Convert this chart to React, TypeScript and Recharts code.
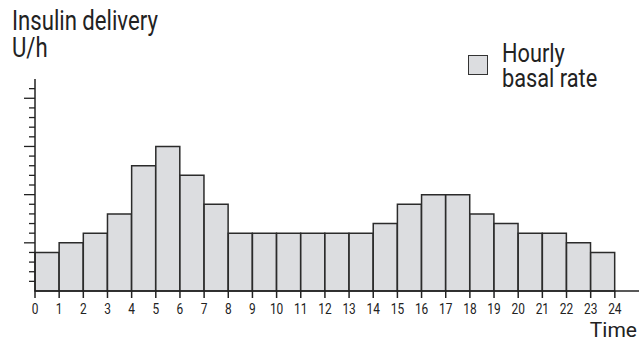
import React from "react";
import { BarChart, Bar, XAxis, YAxis, Legend } from "recharts";

// hourly basal rate, U/h, one value per hour 0-23
const hours = [0, 1, 2, 3, 4, 5, 6, 7, 8, 9, 10, 11, 12, 13, 14, 15, 16, 17, 18, 19, 20, 21, 22, 23];
const basalRate = [0.4, 0.5, 0.6, 0.8, 1.3, 1.5, 1.2, 0.9, 0.6, 0.6, 0.6, 0.6, 0.6, 0.6, 0.7, 0.9, 1.0, 1.0, 0.8, 0.7, 0.6, 0.6, 0.5, 0.4];
const xTicks = [0, 1, 2, 3, 4, 5, 6, 7, 8, 9, 10, 11, 12, 13, 14, 15, 16, 17, 18, 19, 20, 21, 22, 23, 24];
const yTicks = [0.1, 0.2, 0.3, 0.4, 0.5, 0.6, 0.7, 0.8, 0.9, 1.0, 1.1, 1.2, 1.3, 1.4, 1.5, 1.6, 1.7, 1.8, 1.9, 2.0, 2.1];
const majorY = [0.5, 1.0, 1.5, 2.0];

const font = "Roboto, 'Liberation Sans', sans-serif";
const ink = "#222";

const YTick = (props: any) => {
    const { x, y, payload } = props;
    const len = majorY.includes(payload.value) ? 11 : 6;
    return <line x1={x - len} x2={x} y1={y} y2={y} stroke={ink} strokeWidth={1.3} />;
};

// narrow digits, like the condensed face of the original
const XTick = (props: any) => {
    const { x, y, payload } = props;
    return (
        <text transform={`translate(${x},${y}) scale(0.85,1)`} textAnchor="middle" dy="0.71em" fill={ink} fontSize={14} fontFamily={font}>
            {payload.value}
        </text>
    );
};

const narrow = (size: number, sx: number): React.CSSProperties => ({
    position: "absolute",
    fontFamily: font,
    fontSize: size,
    lineHeight: `${size}px`,
    color: ink,
    whiteSpace: "nowrap",
    transform: `scaleX(${sx})`,
    transformOrigin: "left top",
});

const LegendBox = () => (
    <div style={{ position: "relative", width: 170, height: 55 }}>
        <div style={{ position: "absolute", left: 0, top: 14, width: 18, height: 18, background: "#dcdde0", border: "1.5px solid #333" }} />
        <div style={{ ...narrow(25, 0.87), left: 34, top: 0 }}>Hourly</div>
        <div style={{ ...narrow(25, 0.87), left: 34, top: 25 }}>basal rate</div>
    </div>
);

export default function App() {
    const data = basalRate.map((v, i) => ({ mid: hours[i] + 0.5, rate: v }));
    return (
        <div style={{ position: "absolute", left: 0, top: 0, width: 639, height: 345, background: "#fff" }}>
            <div style={{ ...narrow(27, 0.82), left: 12, top: 8 }}>Insulin delivery</div>
            <div style={{ ...narrow(27, 0.82), left: 12, top: 35 }}>U/h</div>
            <div style={{ position: "absolute", right: 2, top: 318, fontFamily: font, fontSize: 21, color: ink }}>
                Time
            </div>
            <BarChart
                width={639}
                height={345}
                data={data}
                barCategoryGap={0}
                barGap={0}
                margin={{ top: 79, right: 0, bottom: 0, left: 0 }}
            >
                <XAxis
                    type="number"
                    dataKey="mid"
                    domain={[0, 25]}
                    ticks={xTicks}
                    interval={0}
                    height={54}
                    tickSize={7}
                    tickMargin={6}
                    stroke={ink}
                    strokeWidth={1.5}
                    tick={<XTick />}
                />
                <YAxis
                    width={35}
                    domain={[0, 2.2]}
                    ticks={yTicks}
                    interval={0}
                    tickSize={0}
                    tickMargin={0}
                    tickLine={false}
                    stroke={ink}
                    strokeWidth={1.5}
                    tick={<YTick />}
                />
                <Legend
                    layout="horizontal"
                    verticalAlign="middle"
                    align="center"
                    content={<LegendBox />}
                    wrapperStyle={{ left: 468, top: 41, width: 170 }}
                />
                <Bar dataKey="rate" fill="#dcdde0" stroke="#2b2b2b" strokeWidth={1.5} isAnimationActive={false} />
            </BarChart>
        </div>
    );
}
